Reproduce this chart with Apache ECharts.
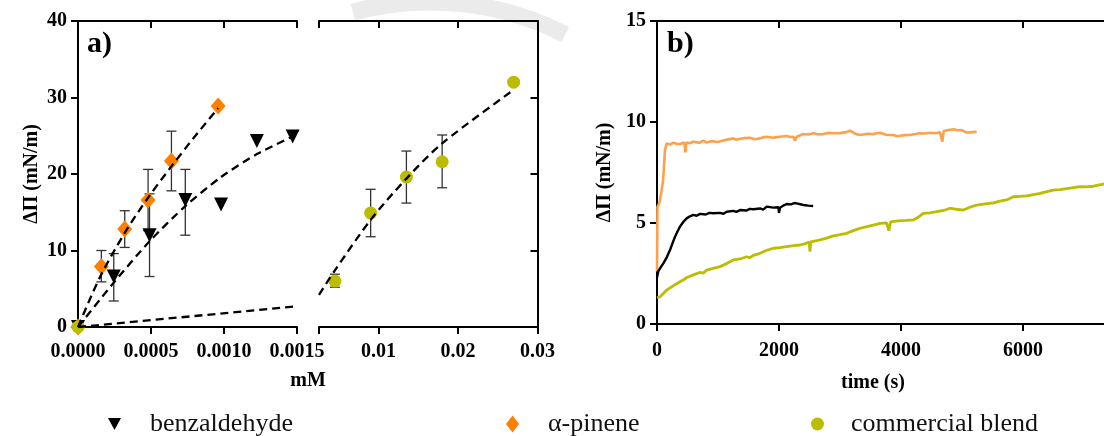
<!DOCTYPE html>
<html>
<head>
<meta charset="utf-8">
<title>Surface pressure</title>
<script src="https://cdn.jsdelivr.net/npm/echarts@6.0.0/dist/echarts.min.js"></script>
<style>
html, body { margin: 0; padding: 0; background: #fff; }
#chart { width: 1104px; height: 436px; }
</style>
</head>
<body>
<div id="chart"></div>
<script>
// panel a) - surface pressure vs concentration (mM)
const benzConc = [0, 0.000245, 0.00049, 0.000735, 0.00098, 0.001225, 0.00147];
const benzPi = [0, 6.6, 12.0, 16.6, 16.0, 24.3, 24.9];
const benzErrLow = [null, 3.4, 6.6, 12.0, null, null, null];
const benzErrHigh = [null, 9.6, 17.4, 20.6, null, null, null];

const pineneConc = [0, 0.00016, 0.00032, 0.00048, 0.00064, 0.00096];
const pinenePi = [0, 7.9, 12.8, 16.6, 21.7, 28.9];
const pineneErrLow = [null, 5.9, 10.4, 12.6, 17.8, null];
const pineneErrHigh = [null, 10.0, 15.2, 20.6, 25.6, null];

const blendConc = [0, 0.0045, 0.009, 0.0135, 0.018, 0.027];
const blendPi = [0, 6.0, 14.9, 19.6, 21.6, 32.0];
const blendErrLow = [null, 5.2, 11.8, 16.2, 18.2, null];
const blendErrHigh = [null, 6.9, 18.0, 23.0, 25.1, null];

// dashed fit curves
const benzFitConc = [0, 0.000245, 0.00049, 0.000735, 0.00098, 0.001225, 0.00147];
const benzFitPi = [0, 5.8, 11.2, 15.8, 19.6, 22.6, 24.9];
const pineneFitConc = [0, 0.00015, 0.00032, 0.00048, 0.00064, 0.0008, 0.00096];
const pineneFitPi = [0, 6.5, 12.3, 16.9, 21.0, 24.9, 28.6];
const blendFitConc = [0, 0.0015, 0.0025, 0.0045, 0.009, 0.0135, 0.018, 0.027];
const blendFitPi = [0, 2.7, 4.2, 7.4, 14.0, 19.4, 24.0, 31.0];

// axis break of panel a)
const breakLow = 0.0015;
const breakHigh = 0.0025;

// panel b) - surface pressure vs time (s)
const pineneTime = [0, 8, 40, 70, 100, 130, 159, 215, 268, 320, 377, 448, 465, 480, 540, 596, 650, 700, 760, 814, 870, 923, 1000, 1087, 1169, 1251, 1300, 1361, 1440, 1525, 1600, 1689, 1740, 1798, 1907, 1960, 2016, 2126, 2180, 2235, 2262, 2290, 2340, 2399, 2480, 2563, 2640, 2727, 2800, 2891, 3000, 3100, 3164, 3219, 3270, 3328, 3450, 3546, 3600, 3656, 3765, 3874, 3930, 3984, 4060, 4148, 4230, 4311, 4400, 4475, 4560, 4639, 4678, 4700, 4780, 4858, 4930, 4995, 5077, 5160, 5241];
const pineneKin = [2.6, 5.8, 6.0, 6.5, 7.1, 8.6, 8.94, 8.88, 8.98, 8.92, 8.91, 8.98, 8.5, 8.98, 8.95, 9.03, 8.99, 8.98, 9.08, 8.98, 9.04, 9.05, 9.01, 9.08, 9.14, 9.19, 9.12, 9.17, 9.2, 9.22, 9.15, 9.19, 9.24, 9.27, 9.22, 9.25, 9.27, 9.31, 9.26, 9.27, 9.08, 9.27, 9.33, 9.41, 9.38, 9.44, 9.39, 9.40, 9.46, 9.44, 9.45, 9.50, 9.57, 9.47, 9.40, 9.36, 9.42, 9.40, 9.44, 9.47, 9.36, 9.36, 9.31, 9.32, 9.35, 9.36, 9.41, 9.44, 9.43, 9.47, 9.44, 9.49, 9.03, 9.55, 9.6, 9.64, 9.59, 9.60, 9.47, 9.5, 9.52];

const benzTime = [0, 20, 60, 104, 160, 213, 255, 295, 340, 377, 430, 486, 540, 596, 650, 705, 800, 860, 923, 1030, 1090, 1142, 1250, 1300, 1361, 1470, 1520, 1579, 1690, 1740, 1798, 1907, 1990, 2000, 2016, 2070, 2126, 2200, 2250, 2290, 2399, 2480, 2560];
const benzKin = [2.3, 2.6, 2.8, 3.0, 3.3, 3.66, 4.0, 4.32, 4.6, 4.82, 5.05, 5.23, 5.33, 5.40, 5.36, 5.45, 5.42, 5.5, 5.48, 5.50, 5.46, 5.56, 5.60, 5.55, 5.64, 5.62, 5.7, 5.68, 5.72, 5.66, 5.81, 5.76, 5.78, 5.50, 5.75, 5.86, 5.94, 5.92, 5.99, 5.97, 5.89, 5.86, 5.84];

const blendTime = [0, 49, 100, 159, 270, 377, 430, 490, 596, 700, 760, 814, 920, 1033, 1090, 1140, 1251, 1360, 1470, 1520, 1580, 1689, 1800, 1907, 2016, 2126, 2240, 2344, 2430, 2495, 2508, 2520, 2600, 2672, 2780, 2891, 3000, 3109, 3220, 3328, 3440, 3546, 3656, 3765, 3800, 3830, 3956, 4080, 4202, 4290, 4366, 4470, 4585, 4700, 4803, 4910, 5022, 5130, 5241, 5380, 5514, 5620, 5732, 5842, 5950, 6060, 6170, 6279, 6390, 6497, 6607, 6716, 6825, 6934, 7040, 7153, 7317, 7400];
const blendKin = [1.3, 1.35, 1.5, 1.68, 1.9, 2.09, 2.18, 2.3, 2.43, 2.55, 2.52, 2.67, 2.75, 2.84, 2.92, 3.0, 3.17, 3.22, 3.33, 3.28, 3.4, 3.5, 3.65, 3.75, 3.78, 3.83, 3.88, 3.91, 3.98, 4.05, 3.58, 4.07, 4.12, 4.16, 4.25, 4.36, 4.42, 4.49, 4.62, 4.74, 4.82, 4.9, 4.98, 5.01, 4.62, 5.05, 5.11, 5.13, 5.15, 5.3, 5.48, 5.5, 5.56, 5.62, 5.73, 5.68, 5.64, 5.78, 5.89, 5.95, 6.0, 6.08, 6.14, 6.3, 6.32, 6.34, 6.4, 6.47, 6.55, 6.63, 6.65, 6.7, 6.75, 6.8, 6.79, 6.82, 6.93, 6.95];

const FONT = '"Liberation Serif", "Times New Roman", serif';
const BLACK = "#000";
const ORANGE = "#ff7f00";
const ORANGE_LINE = "#ffa04a";
const OLIVE = "#bcbc00";

const axisLine = { onZero: false, lineStyle: { color: BLACK, width: 2 } };
const tickStyle = { color: BLACK, width: 2 };
const labelFont = { fontFamily: FONT, fontWeight: "bold", fontSize: 20, color: BLACK };
const nameFont = { fontFamily: FONT, fontWeight: "bold", fontSize: 20, color: BLACK };

function zip(xs, ys) {
	return xs.map((x, i) => [x, ys[i]]);
}

// error bars drawn through the axis scales
function errorBars(conc, low, high, xIdx, yIdx, keep) {
	const data = [];
	conc.forEach((c, i) => {
		if (low[i] != null && keep(c))
			data.push([c, low[i], high[i]]);
	});
	return {
		type: "custom",
		xAxisIndex: xIdx,
		yAxisIndex: yIdx,
		silent: true,
		z: 1,
		data: data,
		encode: { x: 0, y: [1, 2] },
		renderItem: function (params, api) {
			const lo = api.coord([api.value(0), api.value(1)]);
			const hi = api.coord([api.value(0), api.value(2)]);
			const w = 5;
			const style = { stroke: "#333", lineWidth: 1.3 };
			return {
				type: "group",
				children: [
					{ type: "line", shape: { x1: hi[0], y1: hi[1], x2: lo[0], y2: lo[1] }, style: style },
					{ type: "line", shape: { x1: hi[0] - w, y1: hi[1], x2: hi[0] + w, y2: hi[1] }, style: style },
					{ type: "line", shape: { x1: lo[0] - w, y1: lo[1], x2: lo[0] + w, y2: lo[1] }, style: style }
				]
			};
		}
	};
}

function fitLine(data, xIdx, yIdx, smooth) {
	return {
		type: "line",
		xAxisIndex: xIdx,
		yAxisIndex: yIdx,
		data: data,
		smooth: smooth,
		showSymbol: false,
		silent: true,
		z: 4,
		lineStyle: { color: BLACK, width: 2.3, type: [8, 5] }
	};
}

function kinLine(name, data, color, width) {
	return {
		name: name, type: "line", xAxisIndex: 4, yAxisIndex: 2,
		data: data, showSymbol: false, silent: true,
		lineStyle: { color: color, width: width }
	};
}

const lowSide = (c) => c <= breakLow;
const highSide = (c) => c >= breakHigh;

const option = {
	animation: false,
	backgroundColor: "#fff",
	title: [
		{ text: "a)", left: 82, top: 24, textStyle: { fontFamily: FONT, fontWeight: "bold", fontSize: 30, color: BLACK } },
		{ text: "b)", left: 662, top: 24, textStyle: { fontFamily: FONT, fontWeight: "bold", fontSize: 30, color: BLACK } }
	],
	graphic: [
		{
			// faint watermark arc at the top
			type: "arc",
			silent: true,
			z: -1,
			shape: { cx: 430, cy: 300, r: 298, startAngle: 255 * Math.PI / 180, endAngle: 297 * Math.PI / 180 },
			style: { stroke: "#ebebeb", lineWidth: 17, fill: null }
		}
	],
	grid: [
		{ left: 78, top: 21, width: 219, height: 306, outerBoundsMode: "none" },
		{ left: 319, top: 21, width: 218.5, height: 306, outerBoundsMode: "none" },
		{ left: 657, top: 21, width: 488, height: 303, outerBoundsMode: "none" },
		{ left: 78, top: 21, width: 460, height: 306, outerBoundsMode: "none" }
	],
	xAxis: [
		{
			gridIndex: 0, type: "value", position: "bottom",
			min: 0, max: 0.0015, interval: 0.0005,
			axisLine: axisLine,
			axisTick: { length: 7, lineStyle: tickStyle },
			axisLabel: Object.assign({ margin: 15, formatter: (v) => v.toFixed(4) }, labelFont),
			splitLine: { show: false }
		},
		{
			gridIndex: 0, type: "value", position: "top",
			min: 0, max: 0.0015, interval: 0.0005,
			axisLine: axisLine,
			axisTick: { inside: true, length: 7, lineStyle: tickStyle },
			axisLabel: { show: false },
			splitLine: { show: false }
		},
		{
			gridIndex: 1, type: "value", position: "bottom",
			min: breakHigh, max: 0.03, splitNumber: 3,
			axisLine: axisLine,
			axisTick: { length: 7, lineStyle: tickStyle, customValues: [breakHigh, 0.01, 0.02, 0.03] },
			axisLabel: Object.assign({
				margin: 15,
				customValues: [0.01, 0.02, 0.03],
				formatter: (v) => (v < 0.005 ? "" : v.toFixed(2))
			}, labelFont),
			splitLine: { show: false }
		},
		{
			gridIndex: 1, type: "value", position: "top",
			min: breakHigh, max: 0.03, splitNumber: 3,
			axisLine: axisLine,
			axisTick: { inside: true, length: 7, lineStyle: tickStyle, customValues: [breakHigh, 0.01, 0.02, 0.03] },
			axisLabel: { show: false },
			splitLine: { show: false }
		},
		{
			gridIndex: 2, type: "value", position: "bottom",
			min: 0, max: 8000, interval: 2000,
			axisLine: axisLine,
			axisTick: { length: 7, lineStyle: tickStyle },
			axisLabel: Object.assign({ margin: 17, formatter: (v) => String(v) }, labelFont),
			splitLine: { show: false },
			// the panel runs past the right edge, so nudge its title back to the visible middle
			name: "time (s)", nameLocation: "middle", nameGap: 49,
			nameTextStyle: Object.assign({ padding: [0, 56, 0, 0] }, nameFont)
		},
		{
			gridIndex: 2, type: "value", position: "top",
			min: 0, max: 8000, interval: 2000,
			axisLine: axisLine,
			axisTick: { inside: true, length: 7, lineStyle: tickStyle },
			axisLabel: { show: false },
			splitLine: { show: false }
		},
		{
			// only carries the shared "mM" title of the broken axis
			gridIndex: 3, type: "value", min: 0, max: 1,
			axisLine: { show: false }, axisTick: { show: false },
			axisLabel: { show: false }, splitLine: { show: false },
			name: "mM", nameLocation: "middle", nameGap: 44,
			nameTextStyle: nameFont
		}
	],
	yAxis: [
		{
			gridIndex: 0, type: "value", position: "left",
			min: 0, max: 40, interval: 10,
			axisLine: axisLine,
			axisTick: { length: 7, lineStyle: tickStyle },
			axisLabel: Object.assign({ margin: 11 }, labelFont),
			splitLine: { show: false },
			name: "ΔΠ (mN/m)", nameLocation: "middle", nameGap: 36,
			nameTextStyle: nameFont
		},
		{
			gridIndex: 1, type: "value", position: "right",
			min: 0, max: 40, interval: 10,
			axisLine: axisLine,
			axisTick: { inside: true, length: 7, lineStyle: tickStyle },
			axisLabel: { show: false },
			splitLine: { show: false }
		},
		{
			gridIndex: 2, type: "value", position: "left",
			min: 0, max: 15, interval: 5,
			axisLine: axisLine,
			axisTick: { length: 7, lineStyle: tickStyle },
			axisLabel: Object.assign({ margin: 11 }, labelFont),
			splitLine: { show: false },
			name: "ΔΠ (mN/m)", nameLocation: "middle", nameGap: 42,
			nameTextStyle: nameFont
		},
		{ gridIndex: 3, type: "value", show: false, min: 0, max: 1 }
	],
	legend: [
		{
			data: [{ name: "benzaldehyde", icon: "path://M0,0L12,0L6,11Z", itemStyle: { color: BLACK, opacity: 1 } }],
			left: 103, top: 406, itemWidth: 13, itemHeight: 12, selectedMode: false,
			textStyle: { fontFamily: FONT, fontSize: 26, color: "#111", padding: [0, 0, 0, 24] }
		},
		{
			data: [{ name: "α-pinene", icon: "diamond", itemStyle: { color: ORANGE, opacity: 1 } }],
			left: 501, top: 406, itemWidth: 13, itemHeight: 17, selectedMode: false,
			textStyle: { fontFamily: FONT, fontSize: 26, color: "#111", padding: [0, 0, 0, 24] }
		},
		{
			data: [{ name: "commercial blend", icon: "circle", itemStyle: { color: OLIVE, opacity: 1 } }],
			left: 806, top: 406, itemWidth: 13, itemHeight: 13, selectedMode: false,
			textStyle: { fontFamily: FONT, fontSize: 26, color: "#111", padding: [0, 0, 0, 22] }
		}
	],
	series: [
		errorBars(benzConc, benzErrLow, benzErrHigh, 0, 0, lowSide),
		errorBars(pineneConc, pineneErrLow, pineneErrHigh, 0, 0, lowSide),
		errorBars(blendConc, blendErrLow, blendErrHigh, 2, 1, highSide),
		{
			name: "benzaldehyde", type: "scatter", xAxisIndex: 0, yAxisIndex: 0,
			data: zip(benzConc, benzPi),
			symbol: "triangle", symbolRotate: 180, symbolSize: 14, z: 3,
			itemStyle: { color: BLACK, opacity: 1 }
		},
		{
			name: "α-pinene", type: "scatter", xAxisIndex: 0, yAxisIndex: 0,
			data: zip(pineneConc, pinenePi),
			symbol: "diamond", symbolSize: [15, 17], z: 3,
			itemStyle: { color: ORANGE, opacity: 1 }
		},
		{
			name: "commercial blend", type: "scatter", xAxisIndex: 0, yAxisIndex: 0,
			data: zip(blendConc, blendPi).filter((p) => lowSide(p[0])),
			symbol: "circle", symbolSize: 13, z: 3,
			itemStyle: { color: OLIVE, opacity: 1 }
		},
		{
			name: "commercial blend ", type: "scatter", xAxisIndex: 2, yAxisIndex: 1,
			data: zip(blendConc, blendPi).filter((p) => highSide(p[0])),
			symbol: "circle", symbolSize: 13, z: 3,
			itemStyle: { color: OLIVE, opacity: 1 }
		},
		fitLine(zip(benzFitConc, benzFitPi), 0, 0, 0.25),
		fitLine(zip(pineneFitConc, pineneFitPi), 0, 0, 0.3),
		fitLine(zip(blendFitConc, blendFitPi).filter((p) => lowSide(p[0])), 0, 0, false),
		fitLine(zip(blendFitConc, blendFitPi).filter((p) => highSide(p[0])), 2, 1, 0.3),
		kinLine("α-pinene kinetics", zip(pineneTime, pineneKin), ORANGE_LINE, 2.6),
		kinLine("benzaldehyde kinetics", zip(benzTime, benzKin), BLACK, 2.4),
		kinLine("commercial blend kinetics", zip(blendTime, blendKin), OLIVE, 2.8)
	]
};

const chart = echarts.init(document.getElementById("chart"));
chart.setOption(option);
window.addEventListener("resize", chart.resize);
</script>
</body>
</html>
